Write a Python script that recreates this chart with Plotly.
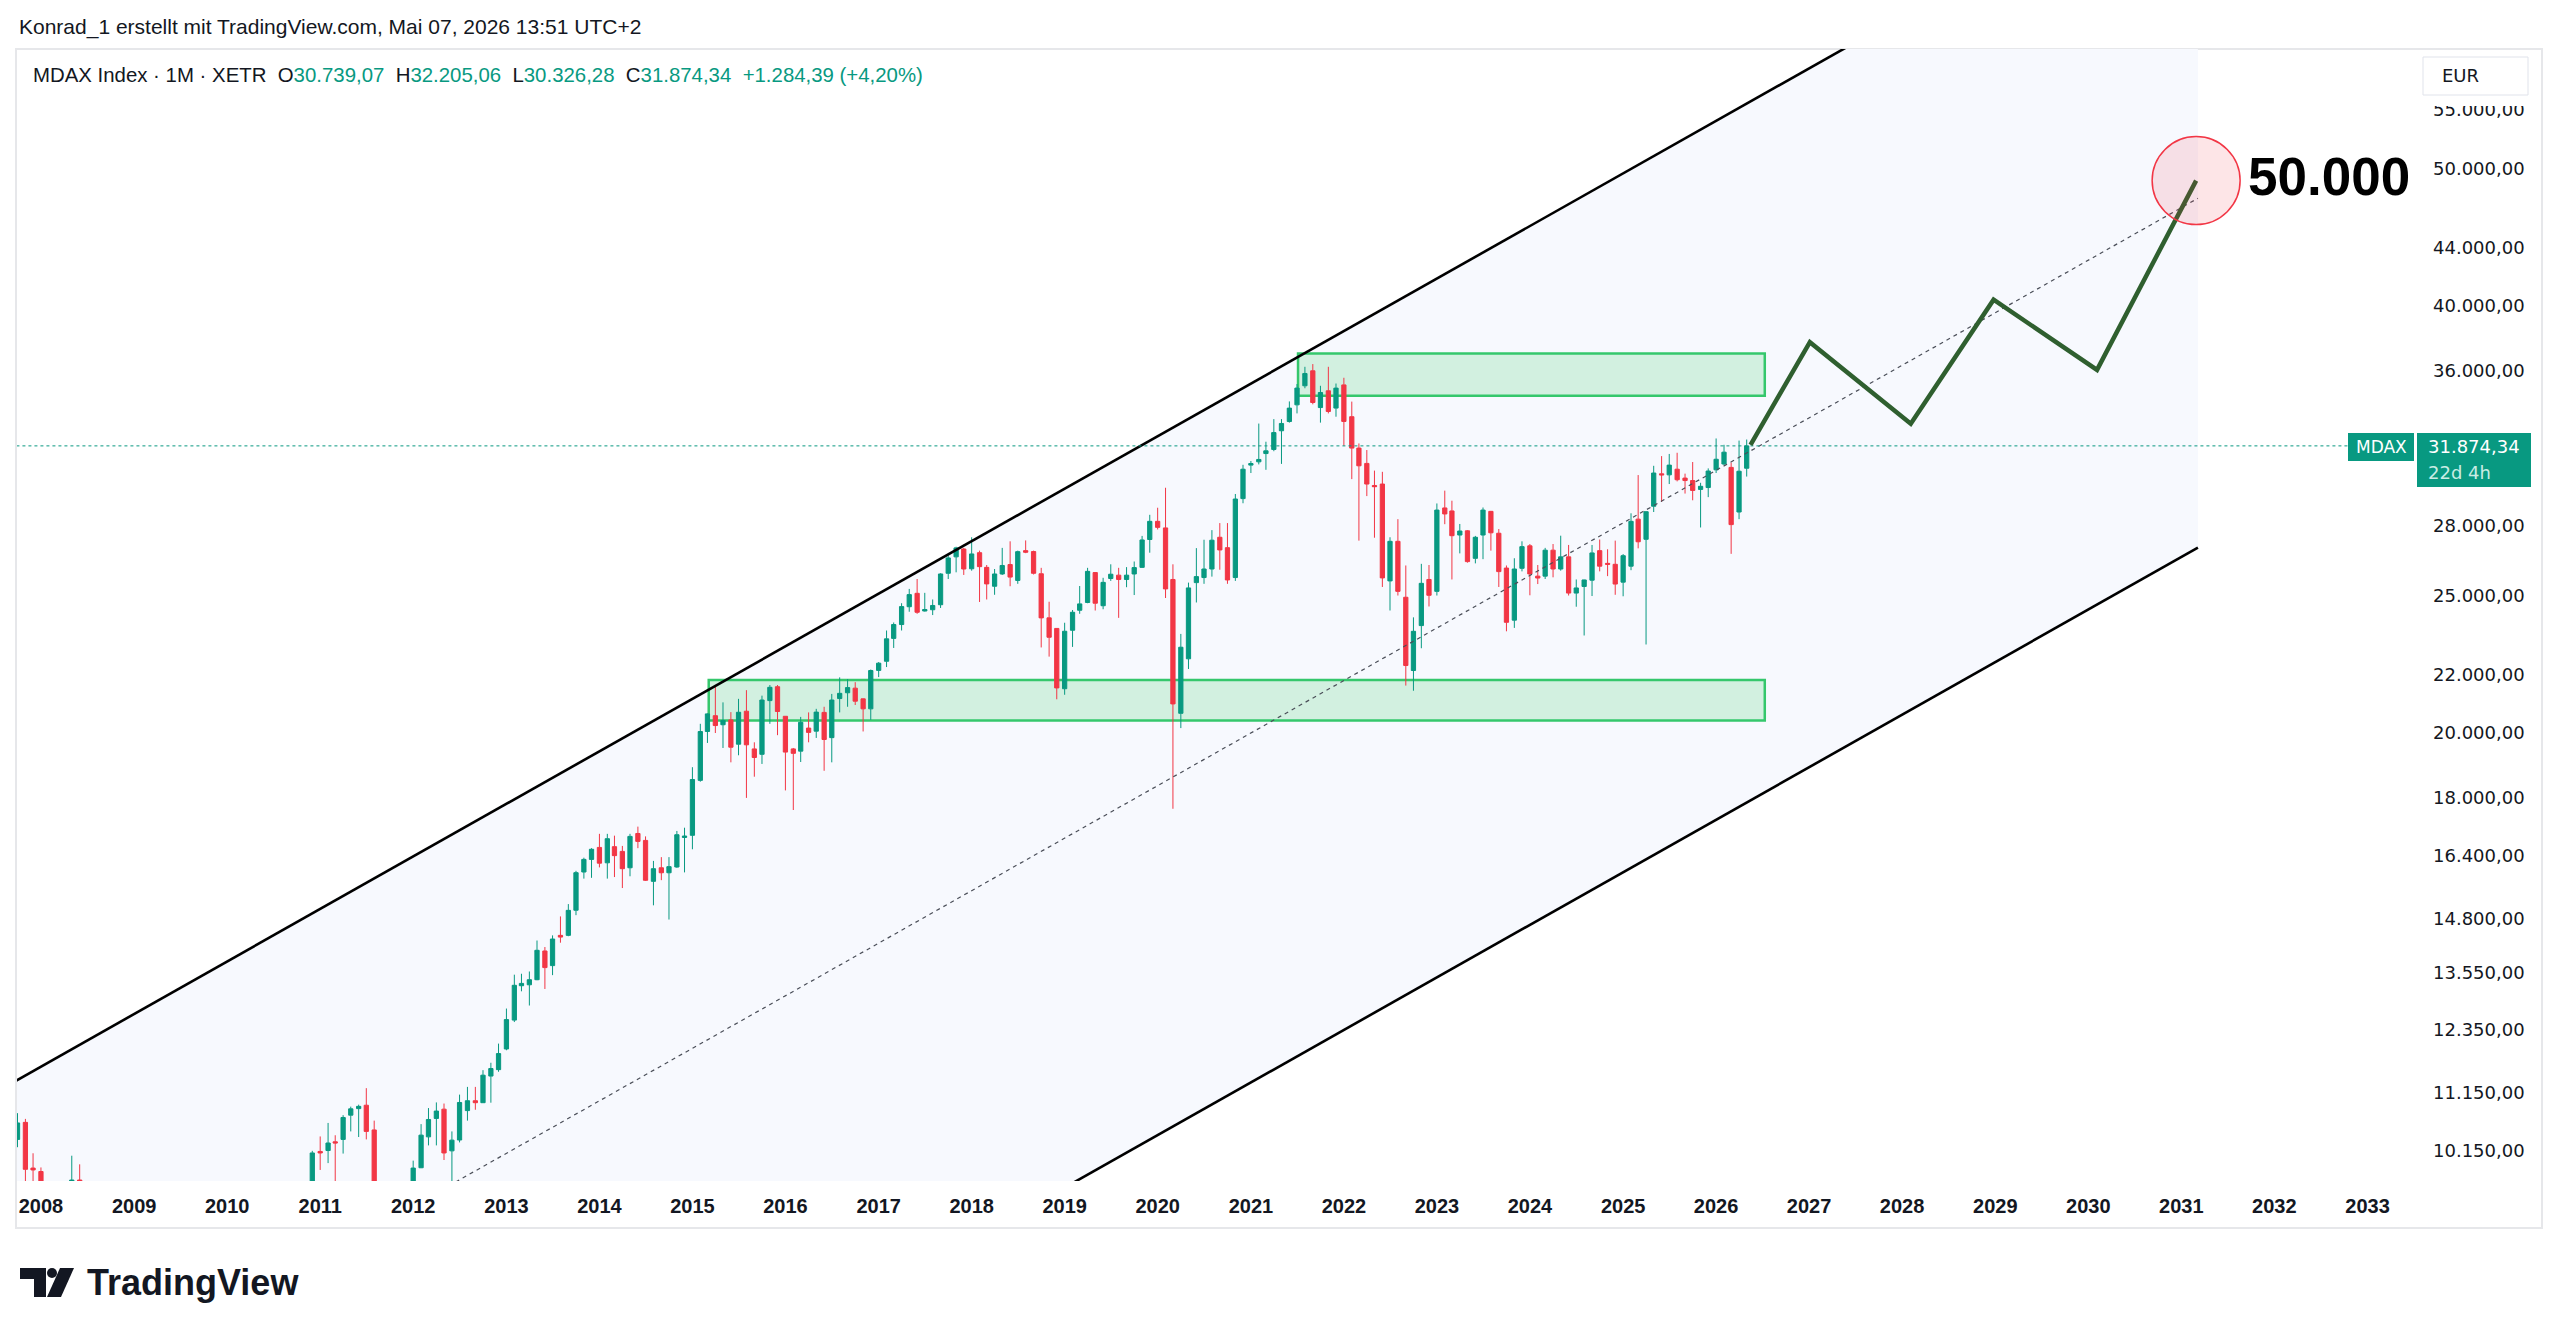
import math
import plotly.graph_objects as go

# ------------------------------------------------------------------ data
months = [
    "2007-10", "2007-11", "2007-12", "2008-01", "2008-05", "2008-06",
    "2010-12", "2011-01", "2011-02", "2011-03", "2011-04", "2011-05", "2011-06", "2011-07", "2011-08",
    "2012-01", "2012-02", "2012-03", "2012-04", "2012-05", "2012-06", "2012-07", "2012-08", "2012-09",
    "2012-10", "2012-11", "2012-12",
    "2013-01", "2013-02", "2013-03", "2013-04", "2013-05", "2013-06", "2013-07", "2013-08", "2013-09",
    "2013-10", "2013-11", "2013-12",
    "2014-01", "2014-02", "2014-03", "2014-04", "2014-05", "2014-06", "2014-07", "2014-08", "2014-09",
    "2014-10", "2014-11", "2014-12",
    "2015-01", "2015-02", "2015-03", "2015-04", "2015-05", "2015-06", "2015-07", "2015-08", "2015-09",
    "2015-10", "2015-11", "2015-12",
    "2016-01", "2016-02", "2016-03", "2016-04", "2016-05", "2016-06", "2016-07", "2016-08", "2016-09",
    "2016-10", "2016-11", "2016-12",
    "2017-01", "2017-02", "2017-03", "2017-04", "2017-05", "2017-06", "2017-07", "2017-08", "2017-09",
    "2017-10", "2017-11", "2017-12",
    "2018-01", "2018-02", "2018-03", "2018-04", "2018-05", "2018-06", "2018-07", "2018-08", "2018-09",
    "2018-10", "2018-11", "2018-12",
    "2019-01", "2019-02", "2019-03", "2019-04", "2019-05", "2019-06", "2019-07", "2019-08", "2019-09",
    "2019-10", "2019-11", "2019-12",
    "2020-01", "2020-02", "2020-03", "2020-04", "2020-05", "2020-06", "2020-07", "2020-08", "2020-09",
    "2020-10", "2020-11", "2020-12",
    "2021-01", "2021-02", "2021-03", "2021-04", "2021-05", "2021-06", "2021-07", "2021-08", "2021-09",
    "2021-10", "2021-11", "2021-12",
    "2022-01", "2022-02", "2022-03", "2022-04", "2022-05", "2022-06", "2022-07", "2022-08", "2022-09",
    "2022-10", "2022-11", "2022-12",
    "2023-01", "2023-02", "2023-03", "2023-04", "2023-05", "2023-06", "2023-07", "2023-08", "2023-09",
    "2023-10", "2023-11", "2023-12",
    "2024-01", "2024-02", "2024-03", "2024-04", "2024-05", "2024-06", "2024-07", "2024-08", "2024-09",
    "2024-10", "2024-11", "2024-12",
    "2025-01", "2025-02", "2025-03", "2025-04", "2025-05", "2025-06", "2025-07", "2025-08", "2025-09",
    "2025-10", "2025-11", "2025-12",
    "2026-01", "2026-02", "2026-03", "2026-04", "2026-05",
]
opens = [
    10340, 10630, 9870, 9815, 9300, 9680,
    9300, 10140, 10155, 10300, 10340, 10755, 10870, 10930, 10500,
    8900, 9875, 10383, 10698, 10860, 10150, 10330, 10835, 11010,
    10975, 11460, 11580,
    11975, 12550, 13270, 13290, 13400, 14040, 13710, 14400, 14400,
    15000, 15960, 16290,
    16610, 16200, 16630, 16503, 16070, 16990, 16800, 15720, 16070,
    15940, 16090, 16880,
    16940, 18520, 20050, 20570, 20270, 20430, 19640, 20720, 19490,
    19320, 21080, 21560,
    20550, 19490, 19420, 20160, 20060, 20680, 19850, 21150, 21350,
    21510, 21140, 20800,
    22140, 22470, 23320, 23850, 24550, 25090, 24380, 24430, 24630,
    25920, 26620, 26960,
    26110, 26800, 26170, 25380, 25890, 26290, 25620, 26890, 26850,
    25900, 24110, 23700,
    21490, 23630, 24410, 24720, 25950, 24590, 25700, 25840, 25660,
    25890, 26170, 27380,
    28200, 27900, 25660, 20650, 22560, 25530, 25740, 26100, 27480,
    27020, 25740, 29260,
    30895, 31060, 31480, 31690, 32667, 33160, 34070, 35140, 36005,
    33920, 34855, 33891,
    35190, 33420, 31760, 30980, 29890, 29960, 25600, 27300, 24930,
    22135, 23810, 25660,
    25170, 28820, 28680, 27580, 27770, 26556, 27580, 28660, 27660,
    26140, 24020, 26130,
    27100, 25800, 25800, 26910, 26100, 26620, 25100, 25370, 25630,
    26890, 26340, 26300,
    25550, 26220, 28300, 27390, 28900, 30460, 30410, 30690, 30250,
    30130, 29700, 29790,
    30660, 30950, 30780, 28630, 30739.07,
]
highs = [
    10790, 10690, 10110, 9880, 10070, 9930,
    10150, 10390, 10620, 10410, 10755, 10905, 10940, 11237, 10660,
    9990, 10600, 10880, 10980, 10960, 10475, 11120, 11260, 11260,
    11570, 11710, 12080,
    12787, 13510, 13530, 13580, 14280, 14130, 14400, 14850, 15150,
    15990, 16335, 16590,
    16980, 16980, 16930, 16650, 16980, 17180, 16910, 16250, 16350,
    16350, 17060, 17150,
    18920, 20301, 20650, 21590, 21020, 20690, 21140, 21440, 19700,
    21250, 21620, 21620,
    20550, 19520, 20530, 20680, 20800, 20870, 21310, 21890, 21830,
    21720, 21150, 22170,
    22440, 23620, 23930, 24690, 25270, 25680, 25110, 24840, 25920,
    26690, 27060, 27010,
    27480, 26890, 26270, 26100, 27010, 27300, 26890, 27340, 26890,
    26150, 24750, 23700,
    23920, 24420, 25390, 26150, 25950, 25730, 26300, 26150, 26180,
    26420, 27540, 28500,
    28830, 29780, 26300, 23490, 25530, 27000, 27370, 27800, 28120,
    28120, 29480, 30910,
    31100, 33050, 32090, 33290, 33290, 34260, 35240, 36240, 36400,
    35140, 36240, 35270,
    35600, 34250, 32000, 31660, 30620, 30560, 27480, 28300, 26250,
    24130, 26320, 26270,
    29030, 29640, 29160, 28080, 27800, 27540, 28840, 28680, 27850,
    26250, 26560, 27300,
    27180, 26270, 27010, 27180, 27550, 27140, 25660, 25650, 27140,
    27380, 26950, 27330,
    26740, 28570, 30400, 28650, 30860, 31350, 31460, 31520, 30470,
    31050, 30020, 30730,
    32260, 31930, 31020, 32150, 32205.06,
]
lows = [
    10210, 9550, 9400, 7900, 9200, 8500,
    9200, 9840, 9950, 9400, 10105, 10475, 10380, 10340, 8200,
    8800, 9870, 10240, 10240, 10000, 9600, 10290, 10660, 10850,
    10975, 10975, 11540,
    11950, 12510, 13150, 12850, 13390, 13200, 13500, 14230, 14380,
    14880, 15790, 15810,
    16080, 15790, 15830, 15550, 15850, 16590, 15730, 15120, 15750,
    14775, 16070, 15950,
    16560, 18480, 19680, 20000, 19520, 19070, 19290, 18000, 18630,
    19020, 20300, 19930,
    18220, 17650, 19080, 19700, 19840, 18810, 19070, 20680, 20870,
    20930, 20050, 20430,
    21900, 22260, 22960, 23620, 24350, 24270, 24360, 24220, 24500,
    25680, 25960, 25850,
    26030, 24740, 24840, 25030, 25850, 25380, 25480, 26780, 25870,
    22980, 22640, 21125,
    21280, 23000, 24270, 24690, 24400, 24450, 25600, 24110, 25340,
    25020, 26150, 26800,
    27830, 24900, 17685, 20160, 22190, 24720, 25480, 25780, 26070,
    25480, 25600, 29040,
    30500, 30930, 30660, 31600, 30955, 33100, 33600, 35000, 34100,
    33100, 33600, 33420,
    31880, 30200, 27330, 29380, 27460, 25350, 24400, 25000, 21600,
    21420, 22950, 24560,
    25000, 28070, 25660, 26770, 26370, 26340, 26520, 26890, 25350,
    23590, 23720, 26000,
    25010, 25470, 25680, 25750, 26030, 25000, 24550, 23430, 24980,
    26000, 25800, 25030,
    24970, 26050, 26990, 23090, 28630, 29100, 29960, 30090, 29500,
    29180, 27920, 29330,
    30500, 30900, 26750, 28300, 30326.28,
]
closes = [
    10620, 9850, 9840, 8500, 9680, 8700,
    10115, 10115, 10280, 10280, 10715, 10866, 10910, 10475, 8900,
    9870, 10412, 10680, 10827, 10115, 10328, 10979, 11010, 10975,
    11476, 11601, 11886,
    12560, 13279, 13320, 13400, 14055, 13666, 14315, 14360, 14997,
    15943, 16290, 16560,
    16190, 16847, 16390, 16046, 16910, 16773, 15747, 16046, 15940,
    16100, 16956, 16920,
    18546, 20048, 20630, 20243, 20407, 19544, 20684, 19620, 19220,
    21100, 21540, 20710,
    19390, 19350, 20350, 20020, 20690, 19790, 21100, 21330, 21530,
    21060, 20800, 22135,
    22400, 23303, 23850, 24555, 25037, 24330, 24440, 24600, 25890,
    26574, 27010, 26100,
    26746, 26200, 25476, 25890, 26250, 25760, 26846, 26820, 25920,
    24109, 23363, 21518,
    23592, 24330, 24663, 26000, 24690, 25540, 25880, 25660, 25840,
    26160, 27360, 28200,
    27925, 25270, 20967, 22988, 25311, 25780, 26100, 27350, 26920,
    25640, 29240, 30690,
    30975, 31180, 31620, 32570, 33056, 33890, 35010, 35850, 34200,
    34760, 33705, 35008,
    33163, 31760, 30860, 29960, 29830, 25725, 27300, 25170, 22315,
    23590, 25500, 25010,
    28720, 28540, 27550, 27760, 26415, 27480, 28720, 27680, 25990,
    23937, 26100, 27065,
    25890, 25720, 26910, 26100, 26620, 25100, 25310, 25640, 26790,
    26220, 26300, 25470,
    26670, 28200, 27280, 28645, 30500, 30410, 30895, 30170, 30130,
    29650, 29850, 30600,
    31190, 31550, 28050, 30589.95, 31874.34,
]

year_ticks = list(range(2008, 2034))
price_ticks = [55000, 50000, 44000, 40000, 36000, 28000, 25000, 22000,
               20000, 18000, 16400, 14800, 13550, 12350, 11150, 10150]

# parallel channel (upper / lower / middle line end points)
channel_dates = ["2007-09-01", "2031-03-07"]
channel_upper = [11310, 84000]
channel_lower = [3636, 27020]
channel_mid = [6413, 47640]

# support / resistance rectangles
zone_dates = [["2021-07-05", "2026-07-11"], ["2015-03-06", "2026-07-11"]]
zone_low = [34575, 20407]
zone_high = [37030, 21800]

# projected path
path_dates = ["2026-05-16", "2027-01-04", "2028-02-04", "2028-12-25", "2030-02-04", "2031-02-28"]
path_values = [31930, 37720, 33040, 40410, 36060, 49030]

target_label = "50.000"
last_price = 31874.34
price_line_end = "2032-10-16"

# ------------------------------------------------------------------ helpers
L, R, T, B = 17, 2416, 49, 1181
W, H = R - L, B - T


def px(x):
    return (x - L) / W


def py(y):
    return (B - y) / H


def de(v, d=2):
    s = f"{v:,.{d}f}"
    return s.replace(",", "X").replace(".", ",").replace("X", ".")


UP, DOWN = "#089981", "#F23645"
TXT = "#131722"
x_dates = [m + "-01" for m in months]

fig = go.Figure()

# middle dashed line
fig.add_trace(go.Scatter(x=channel_dates, y=channel_mid, mode="lines",
                         line=dict(color="#4a4e58", width=1.2, dash="4px,4px"),
                         hoverinfo="skip", showlegend=False))
# channel borders
for arr in (channel_upper, channel_lower):
    fig.add_trace(go.Scatter(x=channel_dates, y=arr, mode="lines",
                             line=dict(color="#000000", width=2.6),
                             hoverinfo="skip", showlegend=False))

# last price dotted line
fig.add_trace(go.Scatter(x=["2007-06-01", price_line_end], y=[last_price, last_price], mode="lines",
                         line=dict(color=UP, width=1, dash="dot"),
                         hoverinfo="skip", showlegend=False))

# candles
fig.add_trace(go.Candlestick(
    x=x_dates, open=opens, high=highs, low=lows, close=closes,
    increasing=dict(line=dict(color=UP, width=1), fillcolor=UP),
    decreasing=dict(line=dict(color=DOWN, width=1), fillcolor=DOWN),
    showlegend=False))

# projection path
fig.add_trace(go.Scatter(x=path_dates, y=path_values, mode="lines",
                         line=dict(color="#2f5f2f", width=4.5),
                         hoverinfo="skip", showlegend=False))

# target circle
fig.add_trace(go.Scatter(x=[path_dates[-1]], y=[path_values[-1]], mode="markers",
                         marker=dict(size=88, color="rgba(242,54,69,0.13)",
                                     line=dict(color="#F23645", width=1.5)),
                         hoverinfo="skip", showlegend=False))

shapes = []
# channel background (below traces)
d0, d1 = channel_dates
shapes.append(dict(type="path", xref="x", yref="y", layer="below",
                   path=(f"M {d0},{channel_upper[0]} L {d1},{channel_upper[1]} "
                         f"L {d1},{channel_lower[1]} L {d0},{channel_lower[0]} Z"),
                   fillcolor="#f7f9fe", line=dict(width=0)))
# zones
for d, lo, hi in zip(zone_dates, zone_low, zone_high):
    shapes.append(dict(type="rect", xref="x", yref="y", layer="below",
                       x0=d[0], x1=d[1], y0=lo, y1=hi,
                       fillcolor="#d2f0e0", line=dict(color="#35c76c", width=2.5)))
# pane border
shapes.append(dict(type="rect", xref="paper", yref="paper", x0=px(16), x1=px(2542), y0=py(49), y1=py(1228),
                   line=dict(color="#e6e7ea", width=2), fillcolor="rgba(0,0,0,0)", layer="below"))
# cover for top of price scale + EUR button
shapes.append(dict(type="rect", xref="paper", yref="paper", x0=px(2417), x1=px(2541), y0=py(50), y1=py(106),
                   line=dict(width=0), fillcolor="#ffffff", layer="above"))
shapes.append(dict(type="rect", xref="paper", yref="paper", x0=px(2423), x1=px(2528), y0=py(57), y1=py(95),
                   line=dict(color="#e0e3eb", width=1), fillcolor="#ffffff", layer="above"))
# price labels
shapes.append(dict(type="rect", xref="paper", yref="paper", x0=px(2348), x1=px(2414), y0=py(433), y1=py(461),
                   line=dict(width=0), fillcolor=UP, layer="above"))
shapes.append(dict(type="rect", xref="paper", yref="paper", x0=px(2417), x1=px(2531), y0=py(433), y1=py(487),
                   line=dict(width=0), fillcolor=UP, layer="above"))


# TradingView logo
def pth(points):
    return "M " + " L ".join(f"{px(a)},{py(b)}" for a, b in points) + " Z"


shapes.append(dict(type="path", xref="paper", yref="paper",
                   path=pth([(20, 1268), (46, 1268), (46, 1297), (34, 1297), (34, 1279), (20, 1279)]),
                   fillcolor=TXT, line=dict(width=0)))
shapes.append(dict(type="circle", xref="paper", yref="paper", x0=px(47), x1=px(57), y0=py(1268), y1=py(1278),
                   fillcolor=TXT, line=dict(width=0)))
shapes.append(dict(type="path", xref="paper", yref="paper",
                   path=pth([(60, 1268), (74, 1268), (61, 1297), (47, 1297)]),
                   fillcolor=TXT, line=dict(width=0)))

annotations = []
annotations.append(dict(xref="paper", yref="paper", x=px(17), y=py(27), xanchor="left", yanchor="middle",
                        text="Konrad_1 erstellt mit TradingView.com, Mai 07, 2026 13:51 UTC+2",
                        showarrow=False, font=dict(family="Liberation Sans", size=21, color=TXT)))
sp = "\u00a0"
o, h, l, c = opens[-1], highs[-1], lows[-1], closes[-1]
chg = c - closes[-2]
legend_txt = (f"MDAX Index · 1M · XETR{sp}{sp}O<span style='color:{UP}'>{de(o)}</span>{sp}{sp}"
              f"H<span style='color:{UP}'>{de(h)}</span>{sp}{sp}L<span style='color:{UP}'>{de(l)}</span>{sp}{sp}"
              f"C<span style='color:{UP}'>{de(c)}</span>{sp}{sp}"
              f"<span style='color:{UP}'>+{de(chg)} (+{de(chg / closes[-2] * 100)}%)</span>")
annotations.append(dict(xref="paper", yref="paper", x=px(31), y=py(75), xanchor="left", yanchor="middle",
                        text=legend_txt, showarrow=False,
                        font=dict(family="Liberation Sans", size=20.4, color=TXT)))
annotations.append(dict(xref="paper", yref="paper", x=px(2440), y=py(76), xanchor="left", yanchor="middle",
                        text="EUR", showarrow=False, font=dict(family="DejaVu Sans", size=18, color=TXT)))
annotations.append(dict(xref="paper", yref="paper", x=px(2381), y=py(447), xanchor="center", yanchor="middle",
                        text="MDAX", showarrow=False, font=dict(family="DejaVu Sans", size=17, color="#ffffff")))
annotations.append(dict(xref="paper", yref="paper", x=px(2426), y=py(446), xanchor="left", yanchor="middle",
                        text=de(last_price), showarrow=False,
                        font=dict(family="DejaVu Sans", size=18, color="#ffffff")))
annotations.append(dict(xref="paper", yref="paper", x=px(2426), y=py(472), xanchor="left", yanchor="middle",
                        text="22d 4h", showarrow=False,
                        font=dict(family="DejaVu Sans", size=18, color="#c9ece4")))
annotations.append(dict(xref="paper", yref="paper", x=px(2246), y=py(176), xanchor="left", yanchor="middle",
                        text=f"<b>{target_label}</b>", showarrow=False,
                        font=dict(family="Liberation Sans", size=53, color="#000000")))
annotations.append(dict(xref="paper", yref="paper", x=px(85), y=py(1282), xanchor="left", yanchor="middle",
                        text="<b>TradingView</b>", showarrow=False,
                        font=dict(family="Liberation Sans", size=36, color=TXT)))

fig.update_layout(
    width=2560, height=1336,
    margin=dict(l=L, r=2560 - R, t=T, b=1336 - B),
    paper_bgcolor="#ffffff", plot_bgcolor="#ffffff",
    showlegend=False, shapes=shapes, annotations=annotations, hovermode=False,
    boxgap=0.15,
    xaxis=dict(type="date", range=["2007-09-29", "2033-07-10"], rangeslider=dict(visible=False),
               showgrid=False, zeroline=False, showline=False, ticks="",
               tickvals=[f"{y}-01-01" for y in year_ticks], ticktext=[f"<b>{y}</b>" for y in year_ticks],
               tickfont=dict(family="Liberation Sans", size=20, color=TXT), ticklabelstandoff=11),
    yaxis=dict(type="log", range=[math.log10(9665), math.log10(60706)], side="right",
               showgrid=False, zeroline=False, showline=False, ticks="",
               tickvals=price_ticks, ticktext=[de(v) for v in price_ticks],
               tickfont=dict(family="DejaVu Sans", size=18, color=TXT), ticklabelstandoff=16),
)

fig.write_html("out.html")
